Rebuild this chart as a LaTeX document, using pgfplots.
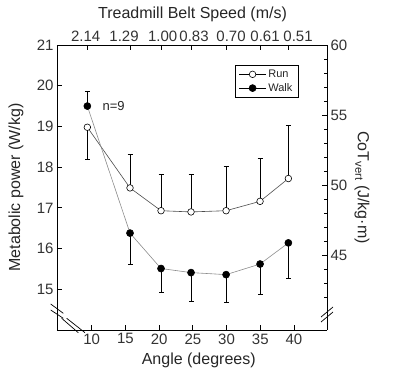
\documentclass[border=0pt]{standalone}
\usepackage{fontspec}
\setmainfont{Liberation Sans}
\usepackage{pgfplots}
\pgfplotsset{compat=1.18}
\usepackage{pgfplotstable}

\pgfplotstableread{
x y ep em
9.35 18.98 0 0.80
15.68 17.49 0.83 0
20.28 16.93 0.90 0
24.73 16.90 0.91 0
29.93 16.93 1.09 0
34.97 17.16 1.06 0
39.17 17.72 1.30 0
}\runtab

\pgfplotstableread{
x y ep em
9.35 19.50 0.36 0
15.68 16.38 0 0.77
20.28 15.51 0 0.60
24.73 15.41 0 0.72
29.93 15.36 0 0.69
34.97 15.62 0 0.75
39.17 16.14 0 0.88
}\walktab

\pgfplotsset{
  common/.style={
    scale only axis, width=270pt, height=285pt,
    xmin=4.85, xmax=44.9,
    tick align=inside,
    axis line style={line width=0.8pt, black},
    tick style={line width=0.8pt, black},
    major tick length=5pt, minor tick length=3.5pt,
    tick label style={font=\fontsize{15}{17}\selectfont, text=black!80},
    /pgf/number format/assume math mode=true,
    label style={font=\fontsize{16}{18}\selectfont, text=black!85},
  }
}

\begin{document}
\begin{tikzpicture}
\path[use as bounding box] (-57pt,-52pt) rectangle (338pt,330pt);
\begin{axis}[common,
  ymin=14, ymax=21,
  axis x line*=bottom, axis y line*=left,
  xtick={10,15,...,40}, ytick={15,16,...,21},
  xlabel={Angle (degrees)},
  ylabel={Metabolic power (W/kg)},
  xlabel style={at={(axis description cs:0.525,-0.105)}, anchor=center},
  ylabel style={at={(axis description cs:-0.152,0.5)}, anchor=center},
  legend style={at={(axis description cs:0.659,0.930)}, anchor=north west,
    font=\fontsize{11}{12}\selectfont, text=black!85, draw=black, line width=0.7pt,
    inner xsep=3.5pt, inner ysep=2.5pt, row sep=0.5pt, legend cell align=left},
  legend image code/.code={
    \draw[mark repeat=2, mark phase=2, #1, black] plot coordinates {(0pt,0pt) (13.5pt,0pt) (27pt,0pt)};
  },
  error bars/y dir=both, error bars/y explicit,
  error bars/error bar style={line width=0.95pt, black},
  error bars/error mark options={rotate=90, black, mark size=2.5pt, line width=0.95pt},
]
\addplot[color=black!70, line width=0.6pt, mark=*, mark size=3.3pt,
  mark options={fill=white, draw=black, line width=0.6pt}]
  table[x=x, y=y, y error plus=ep, y error minus=em] {\runtab};
\addlegendentry{Run}
\addplot[color=black!45, line width=0.6pt, mark=*, mark size=3.5pt,
  mark options={fill=black, draw=black}]
  table[x=x, y=y, y error plus=ep, y error minus=em] {\walktab};
\addlegendentry{Walk}
\node[anchor=west, font=\fontsize{13}{15}\selectfont, text=black!85] at (axis cs:11.1,19.5) {n=9};
\end{axis}
\begin{axis}[common,
  ymin=39.64, ymax=60,
  axis x line*=top, axis y line*=right,
  xtick={9.35,15.68,20.28,24.73,29.93,34.97,39.17},
  xticklabels={},
  extra x ticks={9.11,14.79,20.53,25.18,30.67,35.71,40.61},
  extra x tick labels={2.14,1.29,1.00,0.83,0.70,0.61,0.51},
  extra x tick style={major tick length=0pt},
  ytick={45,50,55,60},
  minor ytick={42,43,...,59},
  xlabel={Treadmill Belt Speed (m/s)},
  ylabel={CoT\textsubscript{vert} (J/kg·m)},
  xlabel style={at={(axis description cs:0.502,1.109)}, anchor=center},
  ylabel style={at={(axis description cs:1.13,0.5)}, anchor=center, rotate=180},
]
\end{axis}
\draw[line width=0.7pt] (-6.3pt,26pt) -- (6.3pt,16.7pt);
\draw[line width=0.7pt] (-6.3pt,20pt) -- (6.3pt,11.7pt);
\draw[line width=0.7pt] (4.7pt,11.7pt) -- (21.3pt,-2.7pt);
\draw[line width=0.7pt] (9.7pt,11.7pt) -- (28pt,-2.7pt);
\draw[line width=0.7pt] (264pt,13pt) -- (276pt,23pt);
\draw[line width=0.7pt] (264pt,8pt) -- (276pt,18pt);
\end{tikzpicture}
\end{document}
